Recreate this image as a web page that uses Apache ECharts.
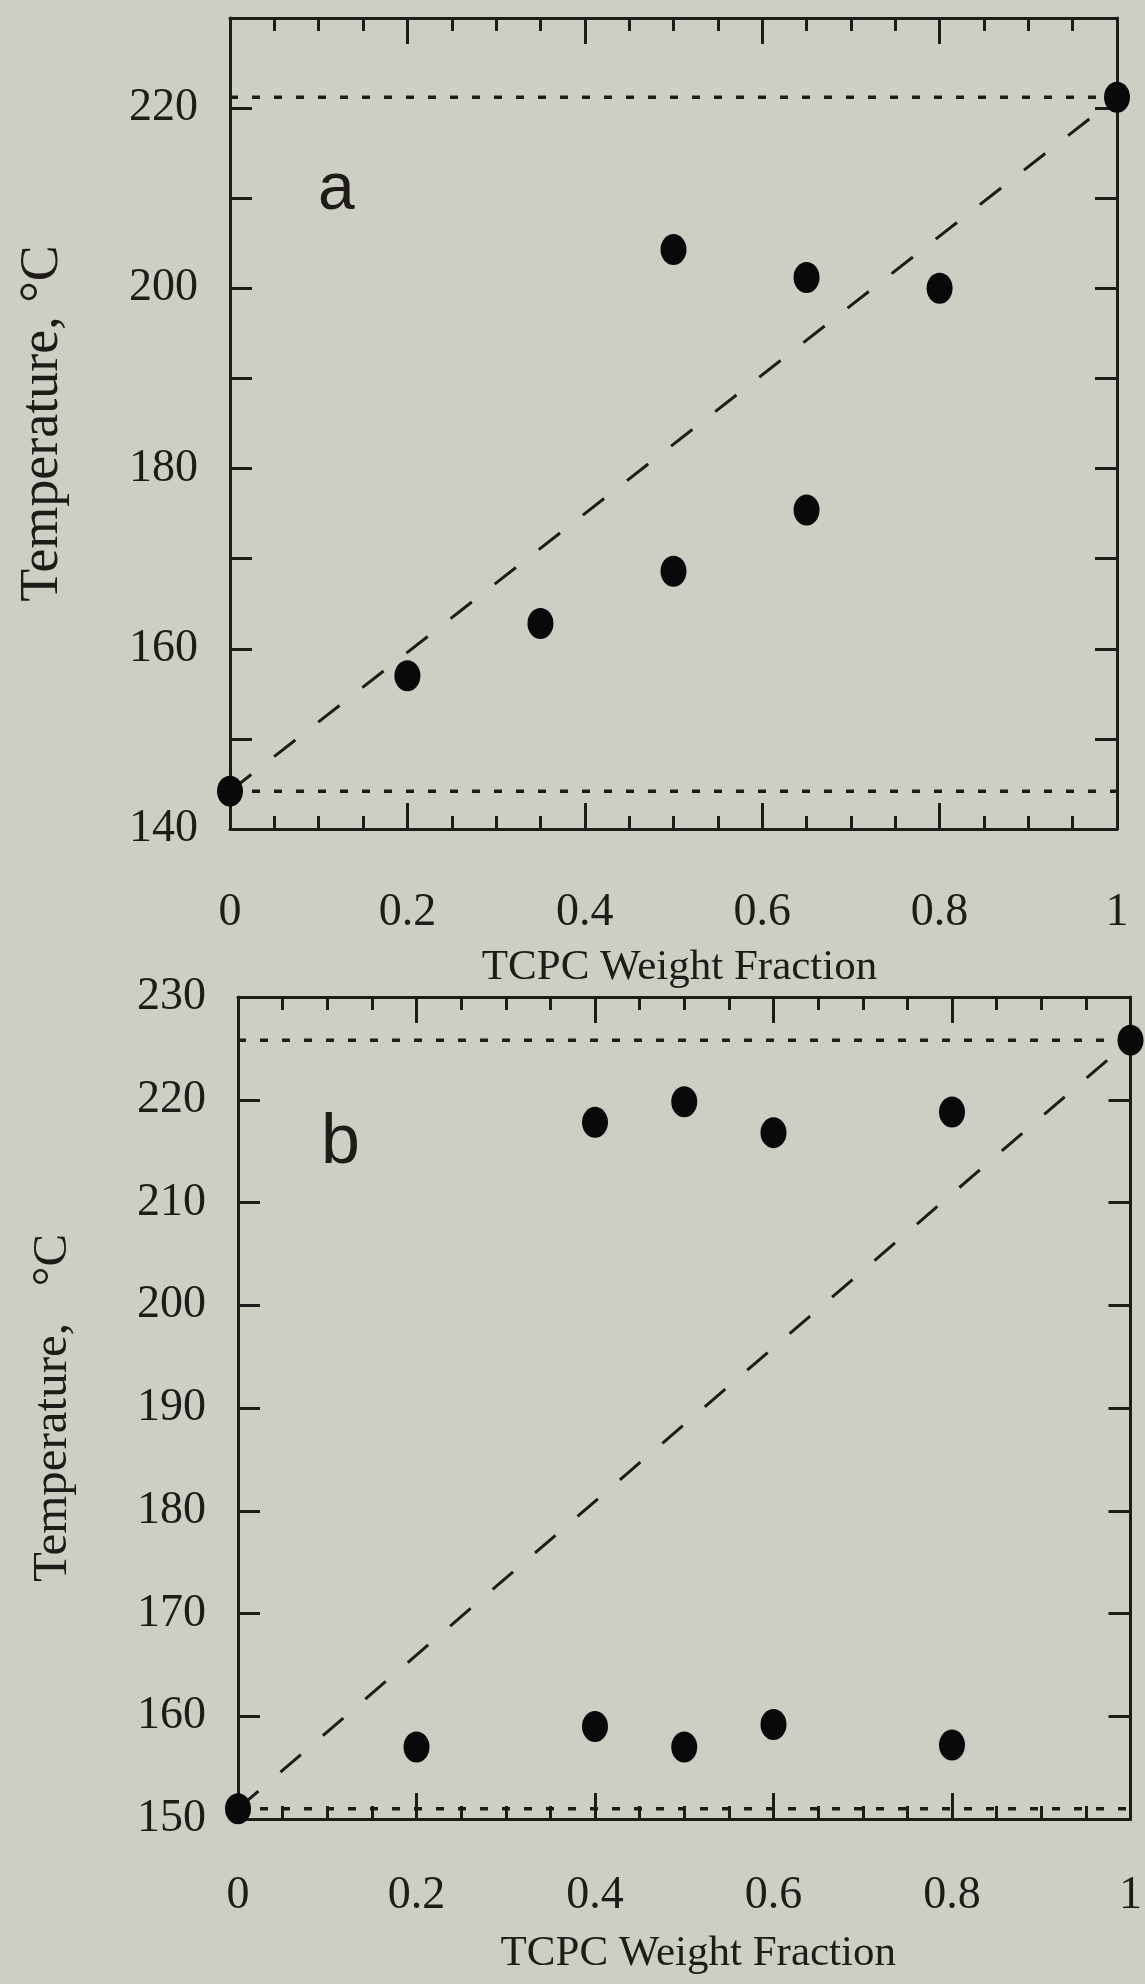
<!DOCTYPE html>
<html>
<head>
<meta charset="utf-8">
<script src="https://cdn.jsdelivr.net/npm/echarts@6/dist/echarts.min.js"></script>
<style>
  html, body { margin: 0; padding: 0; background: #cdcfc5; }
  #chart { width: 1145px; height: 1984px; }
</style>
</head>
<body>
<div id="chart"></div>
<script>
// panel a
var fracA = [0, 0.2, 0.35, 0.5, 0.5, 0.65, 0.65, 0.8, 1];
var tempA = [144.2, 157, 162.8, 204.3, 168.6, 201.2, 175.4, 200, 221.2];
var pureA = [144.2, 221.2];   // pure components (x = 0 and x = 1)

// panel b
var fracB = [0, 0.2, 0.4, 0.5, 0.6, 0.8, 0.4, 0.5, 0.6, 0.8, 1];
var tempB = [151, 157, 159, 157, 159.2, 157.2, 217.8, 219.8, 216.8, 218.8, 225.8];
var pureB = [151, 225.8];

var ink = '#1e1b19';
var serif = 'Liberation Serif';

function pts(xs, ys) {
  return xs.map(function (x, i) { return [x, ys[i]]; });
}

function xAxes(g, pos, nameStr, pad, margin, gap) {
  return {
    gridIndex: g, type: 'value', min: 0, max: 1, interval: 0.2, position: pos,
    name: pos === 'bottom' ? nameStr : '',
    nameLocation: 'middle', nameGap: gap,
    nameTextStyle: { fontFamily: serif, fontSize: 43, color: ink, padding: [0, 0, 0, pad] },
    axisLine: { show: true, onZero: false, lineStyle: { color: ink, width: 3 } },
    axisTick: { show: true, inside: true, length: 26, lineStyle: { color: ink, width: 3 } },
    minorTick: { show: true, splitNumber: 4, length: 13, lineStyle: { color: ink, width: 3 } },
    splitLine: { show: false },
    axisLabel: {
      show: pos === 'bottom', margin: margin, fontFamily: serif, fontSize: 46, color: ink
    }
  };
}

function yAxes(g, pos, min, max, every, nameStr, nameSize) {
  return {
    gridIndex: g, type: 'value', min: min, max: max, interval: 10, position: pos,
    name: pos === 'left' ? nameStr : '',
    nameLocation: 'middle', nameGap: 160, nameRotate: 90,
    nameTextStyle: { fontFamily: serif, fontSize: nameSize, color: ink },
    axisLine: { show: true, onZero: false, lineStyle: { color: ink, width: 3 } },
    axisTick: { show: true, inside: true, length: 22, lineStyle: { color: ink, width: 3 } },
    splitLine: { show: false },
    axisLabel: {
      show: pos === 'left', margin: 32, fontFamily: serif, fontSize: 46, color: ink,
      formatter: function (v) { return v % every === 0 ? String(v) : ''; }
    }
  };
}

function seriesFor(g, xs, ys, pure) {
  var ax = g * 2;
  return [
    {
      type: 'line', xAxisIndex: ax, yAxisIndex: ax, symbol: 'none', silent: true,
      data: [[0, pure[0]], [1, pure[0]]],
      lineStyle: { color: ink, width: 3.5, type: [8, 14] }
    },
    {
      type: 'line', xAxisIndex: ax, yAxisIndex: ax, symbol: 'none', silent: true,
      data: [[0, pure[1]], [1, pure[1]]],
      lineStyle: { color: ink, width: 3.5, type: [8, 14] }
    },
    {
      type: 'line', xAxisIndex: ax, yAxisIndex: ax, symbol: 'none', silent: true,
      data: [[0, pure[0]], [1, pure[1]]],
      lineStyle: { color: ink, width: 3, type: [27, 29] }
    },
    {
      type: 'scatter', xAxisIndex: ax, yAxisIndex: ax, z: 5, clip: false,
      symbol: 'circle', symbolSize: [26, 31],
      itemStyle: { color: '#0a0909', opacity: 1 },
      data: pts(xs, ys)
    }
  ];
}

var chart = echarts.init(document.getElementById('chart'), null, { renderer: 'canvas' });

var option = {
  backgroundColor: '#cdcfc5',
  animation: false,
  grid: [
    { left: 230, top: 18, width: 887, height: 811 },
    { left: 238, top: 997, width: 893, height: 822 }
  ],
  xAxis: [
    xAxes(0, 'bottom', 'TCPC Weight Fraction', 12, 61, 117),
    xAxes(0, 'top', '', 0, 0, 0),
    xAxes(1, 'bottom', 'TCPC Weight Fraction', 28, 54, 113),
    xAxes(1, 'top', '', 0, 0, 0)
  ],
  yAxis: [
    yAxes(0, 'left', 140, 230, 20, 'Temperature, °C', 54),
    yAxes(0, 'right', 140, 230, 20, '', 54),
    yAxes(1, 'left', 150, 230, 10, 'Temperature,   °C', 49),
    yAxes(1, 'right', 150, 230, 10, '', 49)
  ],
  graphic: [
    { type: 'text', left: 318, top: 158,
      style: { text: 'a', fontFamily: 'Liberation Sans', fontSize: 66, fill: ink } },
    { type: 'text', left: 321, top: 1109,
      style: { text: 'b', fontFamily: 'Liberation Sans', fontSize: 70, fill: ink } }
  ],
  series: seriesFor(0, fracA, tempA, pureA).concat(seriesFor(1, fracB, tempB, pureB))
};

chart.setOption(option);
</script>
</body>
</html>
